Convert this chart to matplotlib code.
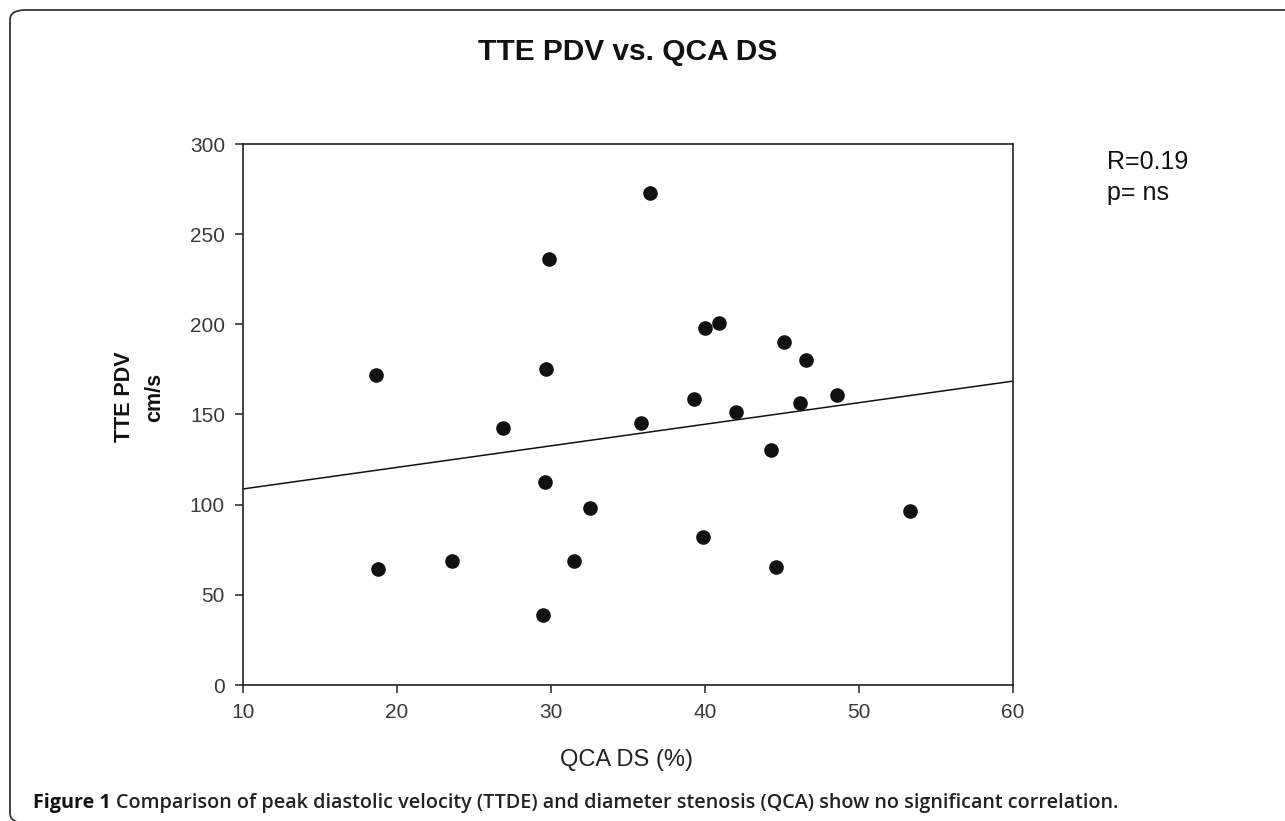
import numpy as np
import matplotlib.pyplot as plt
from matplotlib.patches import FancyBboxPatch

# QCA diameter stenosis (%) and TTE peak diastolic velocity (cm/s)
qca_ds = [18.66, 29.9, 29.7, 26.9, 36.4, 40.0, 40.9, 45.1, 46.55, 39.3, 48.6, 46.2,
          42.0, 35.85, 44.26, 18.76, 23.6, 29.6, 32.55, 31.5, 29.5, 53.3, 39.85, 44.6]
tte_pdv = [171.9, 236.3, 175.3, 142.4, 272.7, 198.0, 200.6, 190.0, 180.3, 158.6, 160.7, 156.2,
           151.6, 145.5, 130.3, 64.3, 69.0, 112.6, 98.4, 69.0, 38.8, 96.7, 82.3, 65.4]

x_ticks = [10, 20, 30, 40, 50, 60]
y_ticks = [0, 50, 100, 150, 200, 250, 300]

W, H = 1285, 821
plt.rcParams['font.family'] = ['Liberation Sans', 'DejaVu Sans']


def fx(px):
    return px / W


def fy(py):
    return 1 - py / H


fig = plt.figure(figsize=(W / 100, H / 100), dpi=100)

# rounded frame, open to the right and bottom
frame = FancyBboxPatch((fx(10), fy(823)), fx(1400), fy(10) - fy(823),
                       boxstyle="round,pad=0,rounding_size=0.012",
                       transform=fig.transFigure, fill=False,
                       edgecolor="#333333", linewidth=1.3)
fig.patches.append(frame)

ax = fig.add_axes([fx(243), fy(685), fx(1013) - fx(243), fy(144) - fy(685)])

ax.plot(qca_ds, tte_pdv, 'o', color="#111111", markersize=9.5)

slope, intercept = np.polyfit(qca_ds, tte_pdv, 1)
xl = np.array([10, 60])
ax.plot(xl, intercept + slope * xl, color="#111111", linewidth=1.1)

ax.set_xlim(10, 60)
ax.set_ylim(0, 300)
ax.set_xticks(x_ticks)
ax.set_yticks(y_ticks)
ax.tick_params(direction='out', length=6, width=1.1, color="#222222",
               labelsize=15, labelcolor="#3a3a3a", pad=7)
for s in ax.spines.values():
    s.set_linewidth(1.2)
    s.set_color("#222222")

fig.text(fx(628), fy(52), "TTE PDV vs. QCA DS", ha='center', va='center',
         fontsize=21.5, fontweight='bold', color="#111111")
fig.text(fx(124), fy(397), "TTE PDV", ha='center', va='center', rotation=90,
         fontsize=15.5, fontweight='bold', color="#111111")
fig.text(fx(155), fy(397), "cm/s", ha='center', va='center', rotation=90,
         fontsize=15.5, fontweight='bold', color="#111111")
fig.text(fx(627), fy(760), "QCA DS (%)", ha='center', va='center',
         fontsize=17, color="#222222")
fig.text(fx(1107), fy(162), "R=0.19", ha='left', va='center',
         fontsize=18, color="#111111")
fig.text(fx(1107), fy(193), "p= ns", ha='left', va='center',
         fontsize=18, color="#111111")

cap1 = fig.text(fx(33), fy(803), "Figure 1 ", ha='left', va='center',
                fontsize=14.2, fontweight='bold', color="#111111",
                family=['Open Sans', 'DejaVu Sans'])
fig.canvas.draw()
bb = cap1.get_window_extent()
fig.text(bb.x1 / W, fy(803),
         "Comparison of peak diastolic velocity (TTDE) and diameter stenosis (QCA) show no significant correlation.",
         ha='left', va='center', fontsize=14.2, fontweight='semibold', color="#222222",
         family=['Open Sans', 'DejaVu Sans'])

fig.savefig("out.png", dpi=100)
